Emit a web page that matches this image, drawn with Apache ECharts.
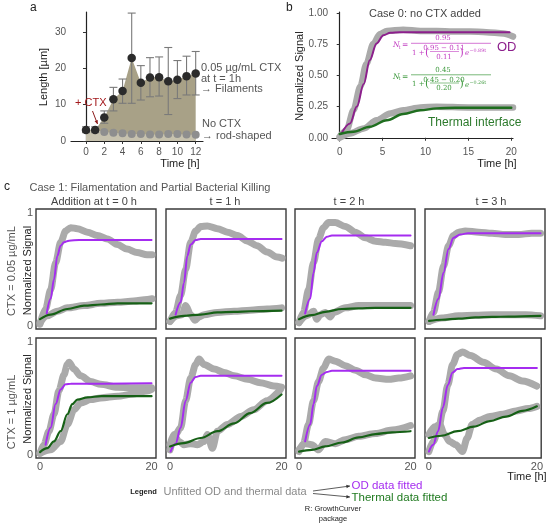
<!DOCTYPE html>
<html>
<head>
<meta charset="utf-8">
<script src="https://cdn.jsdelivr.net/npm/echarts@6/dist/echarts.min.js"></script>
<style>
  html, body { margin: 0; padding: 0; background: #fff; }
  #chart { width: 546px; height: 523px; }
</style>
</head>
<body>
<div id="chart"></div>
<script>
// ---- panel a: cell length ----
const aTime = [0, 1, 2, 3, 4, 5, 6, 7, 8, 9, 10, 11, 12];
const ctxMean = [3.0, 3.0, 6.5, 11.5, 13.8, 22.9, 16.1, 17.5, 17.6, 16.5, 16.9, 17.9, 18.6];
const ctxLow = [2.3, 2.3, 4.9, 8.3, 10.4, 10.4, 11.3, 12.2, 12.4, 7.3, 11.7, 12.7, 12.7];
const ctxHigh = [3.9, 3.9, 8.3, 14.8, 17.1, 35.3, 20.8, 23.0, 23.2, 25.8, 22.2, 23.4, 24.7];
const noCtxMean = [3.0, 3.0, 2.5, 2.3, 2.1, 1.9, 1.9, 1.8, 1.8, 1.9, 1.9, 1.8, 1.7];
const aTicksX = [0, 2, 4, 6, 8, 10, 12];
const aTicksY = [0, 10, 20, 30];

// ---- panel b: case 0 ----
const bOd = [[0,0.01],[0.8,0.06],[1.6,0.22],[2.4,0.41],[3.1,0.59],[3.9,0.75],[4.7,0.83],[5.5,0.855],[7.4,0.865],[9.4,0.855],[11.3,0.855],[13.2,0.85],[15.2,0.85],[17.1,0.845],[19.1,0.835],[20.2,0.81]];
const bOdFit = [[0.2,0.035],[1.2,0.115],[2,0.25],[2.8,0.43],[3.5,0.62],[4.3,0.755],[5.1,0.82],[5.9,0.84],[7,0.845],[19.8,0.845]];
const bTh = [[0,0.0],[1.2,0.035],[2.8,0.075],[4.3,0.14],[5.9,0.195],[7.4,0.22],[9.4,0.243],[11.3,0.248],[15,0.243],[20.2,0.243]];
const bThFit = [[0,0.03],[1.6,0.048],[3.5,0.088],[5.5,0.14],[7.4,0.19],[9.4,0.22],[11.3,0.235],[13.5,0.24],[20,0.24]];
const bTicksX = [0, 5, 10, 15, 20];
const bTicksY = [0, 0.25, 0.5, 0.75, 1];

// ---- panel c: case 1, rows = CTX dose, cols = addition time ----
const r1c1 = {
  od: [[0,0.015],[1.0,0.15],[1.9,0.32],[2.8,0.56],[3.7,0.74],[4.6,0.84],[5.5,0.87],[6.7,0.86],[8.5,0.83],[10.3,0.80],[12.1,0.77],[13.9,0.72],[15.6,0.68],[17.4,0.65],[19.2,0.63],[20.1,0.63]],
  odFit: [[1.2,0.11],[1.9,0.24],[2.5,0.41],[3.1,0.62],[3.7,0.71],[4.3,0.74],[5.2,0.755],[7,0.76],[20,0.76]],
  th: [[0,0.03],[1.3,0.09],[3.1,0.13],[4.9,0.16],[7.9,0.18],[10.9,0.2],[13.9,0.21],[16.8,0.22],[19.2,0.235],[20.1,0.24]],
  thFit: [[0,0.06],[1.9,0.10],[4.9,0.15],[7.9,0.18],[10.9,0.19],[13.9,0.2],[20,0.2]]
};
const r1c2 = {
  od: [[0,0.04],[1,0.12],[1.9,0.27],[2.8,0.5],[3.7,0.74],[4.6,0.84],[5.5,0.88],[6.7,0.885],[8.5,0.86],[10.3,0.83],[12.1,0.8],[13.9,0.75],[15.6,0.71],[17.4,0.655],[19.2,0.61],[20.1,0.6]],
  odFit: [[1,0.1],[1.9,0.21],[2.5,0.38],[3.1,0.62],[3.7,0.72],[4.6,0.76],[5.5,0.77],[20,0.77]],
  th: [[0,0.04],[1.3,0.09],[2.2,0.1],[2.8,0.18],[3.7,0.1],[4.5,0.05],[5.2,0.08],[6.1,0.1],[8.5,0.12],[11.5,0.13],[14.4,0.14],[17.4,0.15],[20,0.16]],
  thFit: [[0,0.065],[2.5,0.09],[5.5,0.1],[8.5,0.12],[11.5,0.125],[14.4,0.13],[20,0.135]]
};
const r1c3 = {
  od: [[0,0.03],[0.8,0.12],[1.7,0.32],[2.6,0.56],[3.5,0.77],[4.4,0.87],[5.3,0.915],[6.5,0.915],[8.3,0.88],[10.1,0.83],[11.9,0.78],[13.7,0.75],[15.5,0.74],[17.3,0.73],[20,0.71]],
  odFit: [[1.1,0.11],[2,0.24],[2.6,0.47],[3.2,0.65],[4.1,0.75],[5,0.79],[5.9,0.8],[20,0.8]],
  th: [[0,0.03],[1.4,0.09],[2.6,0.13],[3.2,0.06],[3.8,0.1],[4.7,0.12],[5.6,0.08],[6.2,0.12],[8.3,0.16],[10.7,0.18],[13.7,0.18],[16.7,0.18],[20,0.18]],
  thFit: [[0,0.06],[2.3,0.095],[4.7,0.125],[7.7,0.15],[10.7,0.155],[13.7,0.16],[20,0.16]]
};
const r1c4 = {
  od: [[0,0.04],[0.8,0.12],[1.7,0.3],[2.6,0.53],[3.5,0.71],[4.4,0.8],[5.3,0.83],[6.5,0.84],[8.9,0.83],[11.3,0.82],[13.7,0.81],[16.1,0.81],[18.4,0.82],[20,0.82]],
  odFit: [[0.8,0.1],[1.7,0.24],[2.6,0.47],[3.5,0.68],[4.4,0.78],[5.6,0.81],[7,0.82],[20,0.82]],
  th: [[0,0.04],[2.3,0.07],[5.3,0.09],[8.3,0.095],[11.3,0.1],[14.3,0.1],[17.3,0.1],[20,0.09]],
  thFit: [[0,0.045],[2.3,0.055],[5.3,0.065],[8.3,0.075],[11.3,0.08],[14.3,0.083],[20,0.09]]
};
const r2c1 = {
  od: [[0,0.015],[0.7,0.09],[1.6,0.21],[2.5,0.36],[3.4,0.57],[4.3,0.71],[4.9,0.8],[5.2,0.82],[6.1,0.76],[7.3,0.7],[9.1,0.65],[10.9,0.625],[13.9,0.6],[16.8,0.595],[20,0.595]],
  odFit: [[1,0.09],[1.9,0.24],[2.8,0.45],[3.7,0.58],[4.6,0.625],[5.5,0.63],[20,0.635]],
  th: [[0,0.015],[1.9,0.045],[3.7,0.12],[4.9,0.27],[6.1,0.4],[7.3,0.46],[9.1,0.49],[10.9,0.505],[13.9,0.52],[16.8,0.54],[19.2,0.565],[20,0.58]],
  thFit: [[0,0.025],[1.3,0.06],[2.5,0.12],[3.7,0.21],[4.9,0.36],[5.8,0.45],[6.7,0.49],[8.5,0.51],[11,0.52],[20,0.52]]
};
const r2c2 = {
  od: [[0,0.045],[1,0.18],[1.9,0.24],[2.8,0.48],[3.7,0.68],[4.6,0.8],[5.2,0.85],[6.1,0.8],[7.9,0.76],[9.7,0.73],[11.5,0.7],[13.9,0.67],[16.2,0.64],[18.6,0.61],[20,0.6]],
  odFit: [[0.1,0.03],[1,0.1],[1.9,0.24],[2.8,0.48],[3.7,0.64],[4.6,0.69],[5.5,0.7],[20,0.7]],
  th: [[0,0.09],[0.7,0.18],[1.6,0.12],[2.5,0.09],[3.7,0.1],[4.9,0.09],[6.1,0.12],[6.7,0.18],[7.6,0.06],[8.5,0.21],[10.3,0.27],[12.7,0.34],[15,0.4],[17.4,0.48],[19.8,0.58]],
  thFit: [[0,0.075],[2.5,0.105],[5.5,0.15],[8.5,0.21],[11.5,0.28],[14.4,0.37],[17.4,0.46],[20,0.535]]
};
const r2c3 = {
  od: [[0,0.03],[0.8,0.1],[1.7,0.27],[2.6,0.48],[3.5,0.65],[4.4,0.77],[5.3,0.85],[6.5,0.83],[8.3,0.79],[10.1,0.75],[11.9,0.71],[13.7,0.68],[16.1,0.67],[17.9,0.68],[20,0.7]],
  odFit: [[1.1,0.12],[2,0.27],[2.6,0.45],[3.2,0.61],[4.1,0.71],[5,0.735],[5.9,0.745],[20,0.745]],
  th: [[0,0.045],[1.1,0.1],[2.3,0.09],[3.5,0.045],[4.7,0.12],[6.5,0.1],[8.3,0.135],[10.7,0.165],[13.7,0.19],[16.7,0.22],[20,0.26]],
  thFit: [[0,0.03],[2.3,0.045],[4.7,0.075],[7.7,0.11],[10.7,0.155],[13.7,0.185],[16.7,0.2],[20,0.21]]
};
const r2c4 = {
  od: [[0,0.03],[0.8,0.12],[1.7,0.21],[2.6,0.39],[3.5,0.62],[4.4,0.8],[5.3,0.89],[6.2,0.91],[7.7,0.88],[10.1,0.82],[12.5,0.76],[14.9,0.7],[17.3,0.655],[20,0.61]],
  odFit: [[0,0.03],[0.8,0.09],[1.7,0.21],[2.6,0.42],[3.5,0.62],[4.4,0.73],[5.3,0.76],[6.5,0.77],[20,0.77]],
  th: [[0,0.18],[1.1,0.25],[2,0.27],[2.9,0.18],[3.8,0.12],[5,0.09],[6.2,0.03],[7.1,0.15],[8,0.27],[9.5,0.31],[11.3,0.34],[13.7,0.36],[16.1,0.39],[18.4,0.41],[20,0.43]],
  thFit: [[0,0.15],[2.3,0.17],[5.3,0.21],[8.3,0.25],[11.3,0.3],[14.3,0.34],[17.3,0.39],[20,0.43]]
};
const cPanels = [r1c1, r1c2, r1c3, r1c4, r2c1, r2c2, r2c3, r2c4];
const cColHeaders = ['Addition at t = 0 h', 't = 1 h', 't = 2 h', 't = 3 h'];

const FONT = 'Liberation Sans, Arial, sans-serif';
const GREY = '#aaaaaa';
const LABEL = '#555555';

const chart = echarts.init(document.getElementById('chart'), null, { renderer: 'canvas' });

const cLeft = [36, 166, 295, 425];
const cTop = [209, 338];

const grids = [
  { left: 71, top: 12, width: 132, height: 129.7 },
  { left: 332, top: 12, width: 181, height: 129 }
];
const xAxes = [
  {
    gridIndex: 0, type: 'value', min: -1.64, max: 12.8,
    axisLine: { lineStyle: { color: '#222', width: 1.2 } },
    axisTick: { customValues: aTicksX, length: 3, lineStyle: { color: '#333' } },
    axisLabel: { customValues: aTicksX, color: LABEL, fontSize: 10, margin: 6, fontFamily: FONT },
    splitLine: { show: false }
  },
  {
    gridIndex: 1, type: 'value', min: -0.9, max: 20.2,
    axisLine: { lineStyle: { color: '#222', width: 1.2 } },
    axisTick: { customValues: bTicksX, length: 3, lineStyle: { color: '#333' } },
    axisLabel: { customValues: bTicksX, color: LABEL, fontSize: 10, margin: 6, fontFamily: FONT },
    splitLine: { show: false }
  }
];
const yAxes = [
  {
    gridIndex: 0, type: 'value', min: -0.2, max: 35.6,
    axisLine: { show: true, lineStyle: { color: '#222', width: 1.2 } },
    axisTick: { show: true, customValues: aTicksY, length: 3, lineStyle: { color: '#333' } },
    axisLabel: { customValues: aTicksY, color: LABEL, fontSize: 10, margin: 5, fontFamily: FONT },
    splitLine: { show: false }
  },
  {
    gridIndex: 1, type: 'value', min: -0.026, max: 1.006,
    axisLine: { show: true, lineStyle: { color: '#222', width: 1.2 } },
    axisTick: { show: true, customValues: bTicksY, length: 3, lineStyle: { color: '#333' } },
    axisLabel: { customValues: bTicksY, color: LABEL, fontSize: 10, margin: 4, fontFamily: FONT,
      formatter: v => v.toFixed(2) },
    splitLine: { show: false }
  }
];

cPanels.forEach((p, i) => {
  const row = Math.floor(i / 4), col = i % 4;
  grids.push({
    left: cLeft[col], top: cTop[row], width: 120, height: 120,
    show: true, borderColor: '#3a3a3a', borderWidth: 1.4, backgroundColor: 'transparent'
  });
  xAxes.push({
    gridIndex: i + 2, type: 'value', min: -0.72, max: 20.8,
    axisLine: { show: false }, axisTick: { show: false }, splitLine: { show: false },
    axisLabel: { show: row === 1, customValues: [0, 20], color: LABEL, fontSize: 11, margin: 3, fontFamily: FONT }
  });
  yAxes.push({
    gridIndex: i + 2, type: 'value', min: -0.027, max: 1.035,
    axisLine: { show: false }, axisTick: { show: false }, splitLine: { show: false },
    axisLabel: { show: col === 0, customValues: [0, 1], color: LABEL, fontSize: 11, margin: 3, fontFamily: FONT }
  });
});

const series = [
  {
    type: 'line', xAxisIndex: 0, yAxisIndex: 0, symbol: 'none',
    data: aTime.map((t, i) => [t, ctxMean[i]]),
    lineStyle: { width: 0 }, areaStyle: { color: '#a8a187', opacity: 1 }, z: 1
  },
  {
    type: 'line', xAxisIndex: 0, yAxisIndex: 0, symbol: 'none',
    data: aTime.map((t, i) => [t, noCtxMean[i]]),
    lineStyle: { width: 0 }, areaStyle: { color: '#c7c2ae', opacity: 1 }, z: 2
  },
  {
    type: 'custom', xAxisIndex: 0, yAxisIndex: 0, z: 3,
    data: aTime.map((t, i) => [t, ctxLow[i], ctxHigh[i]]),
    encode: { x: 0, y: [1, 2] },
    renderItem: (params, api) => {
      const lo = api.coord([api.value(0), api.value(1)]);
      const hi = api.coord([api.value(0), api.value(2)]);
      const w = 4;
      const st = { stroke: '#7a7a7a', lineWidth: 1.1 };
      return {
        type: 'group',
        children: [
          { type: 'line', shape: { x1: lo[0], y1: lo[1], x2: hi[0], y2: hi[1] }, style: st },
          { type: 'line', shape: { x1: lo[0] - w, y1: lo[1], x2: lo[0] + w, y2: lo[1] }, style: st },
          { type: 'line', shape: { x1: hi[0] - w, y1: hi[1], x2: hi[0] + w, y2: hi[1] }, style: st }
        ]
      };
    }
  },
  {
    type: 'scatter', xAxisIndex: 0, yAxisIndex: 0, symbolSize: 8, z: 4,
    data: aTime.slice(2).map((t, i) => [t, noCtxMean[i + 2]]),
    itemStyle: { color: '#8e8e8e', opacity: 1 }
  },
  {
    type: 'scatter', xAxisIndex: 0, yAxisIndex: 0, symbolSize: 8.5, z: 5,
    data: aTime.map((t, i) => [t, ctxMean[i]]),
    itemStyle: { color: '#2b2b2b', opacity: 1 }
  }
];

function thick(data, xi, w) {
  return {
    type: 'line', xAxisIndex: xi, yAxisIndex: xi, symbol: 'none', smooth: 0.3, smoothMonotone: 'x',
    data, lineStyle: { color: GREY, width: w, cap: 'round', join: 'round' }, z: 2, silent: true
  };
}
function fit(data, xi, color, w) {
  return {
    type: 'line', xAxisIndex: xi, yAxisIndex: xi, symbol: 'none', smooth: 0.35, smoothMonotone: 'x',
    data, lineStyle: { color, width: w, cap: 'round' }, z: 3, silent: true
  };
}

series.push(thick(bOd, 1, 6.5), thick(bTh, 1, 6.5),
  fit(bOdFit, 1, '#8c1f8c', 2), fit(bThFit, 1, '#1f6e1f', 2.4));

cPanels.forEach((p, i) => {
  const xi = i + 2;
  series.push(thick(p.od, xi, 7), thick(p.th, xi, 7),
    fit(p.odFit, xi, '#a52cf0', 2), fit(p.thFit, xi, '#166016', 2.2));
});

// ---- annotation helpers ----
function txt(x, y, text, o = {}) {
  return {
    type: 'text', x, y, rotation: o.rot || 0, z: 100,
    style: {
      text, fill: o.color || '#222',
      font: (o.style || '') + ' ' + (o.weight || 'normal') + ' ' + (o.size || 11) + 'px ' + (o.family || FONT),
      align: o.align || 'left', verticalAlign: 'middle'
    }
  };
}
function seg(x1, y1, x2, y2, color, w) {
  return { type: 'line', z: 100, shape: { x1, y1, x2, y2 }, style: { stroke: color, lineWidth: w || 1 } };
}
function arrow(x1, y1, x2, y2, color, w, head) {
  const a = Math.atan2(y2 - y1, x2 - x1), h = head || 4;
  return [
    seg(x1, y1, x2, y2, color, w),
    { type: 'polygon', z: 100, shape: { points: [
      [x2, y2],
      [x2 - h * Math.cos(a - 0.45), y2 - h * Math.sin(a - 0.45)],
      [x2 - h * Math.cos(a + 0.45), y2 - h * Math.sin(a + 0.45)]
    ] }, style: { fill: color } }
  ];
}
function equation(y0, color, num, a, b, rate) {
  const S = 'DejaVu Serif, Liberation Serif, serif';
  return [
    txt(393, y0 + 7, 'N', { color, size: 7.5, style: 'italic', family: S }),
    txt(398.5, y0 + 9, 't', { color, size: 5, family: S }),
    txt(402, y0 + 7, '=', { color, size: 7.5, family: S }),
    txt(443, y0, num, { color, size: 7, family: S, align: 'center' }),
    seg(411, y0 + 4.8, 491, y0 + 4.8, color, 0.7),
    txt(412, y0 + 14.5, '1 +', { color, size: 7, family: S }),
    txt(425, y0 + 14.5, '(', { color, size: 11, family: S }),
    txt(444, y0 + 10, a + ' \u2212 ' + b, { color, size: 7, family: S, align: 'center' }),
    seg(430, y0 + 13, 459, y0 + 13, color, 0.6),
    txt(444, y0 + 18.5, b, { color, size: 7, family: S, align: 'center' }),
    txt(459.5, y0 + 14.5, ')', { color, size: 11, family: S }),
    txt(465, y0 + 15, 'e', { color, size: 7, style: 'italic', family: S }),
    txt(469.5, y0 + 12.5, '\u2212' + rate + 't', { color, size: 4.8, family: S })
  ];
}

const graphics = [
  // panel letters
  txt(30, 8, 'a', { size: 12 }),
  txt(286, 8, 'b', { size: 12 }),
  txt(4, 187, 'c', { size: 12 }),
  // panel a
  txt(44, 77, 'Length [\u00b5m]', { rot: Math.PI / 2, align: 'center', size: 11 }),
  txt(180, 163.5, 'Time [h]', { align: 'center', size: 11 }),
  txt(201, 68, '0.05 \u00b5g/mL CTX', { color: LABEL, size: 11 }),
  txt(201, 78.5, 'at t = 1h', { color: LABEL, size: 11 }),
  txt(201, 89, '\u2192 Filaments', { color: LABEL, size: 11 }),
  txt(202, 124, 'No CTX', { color: LABEL, size: 11 }),
  txt(202, 136, '\u2192 rod-shaped', { color: LABEL, size: 11 }),
  txt(75, 103, '+ CTX', { color: '#a3191c', size: 11 }),
  ...arrow(92.5, 111, 97.5, 124, '#8b1a1a', 1, 4),
  // panel b
  txt(425, 13.5, 'Case 0: no CTX added', { color: '#444', align: 'center', size: 11 }),
  txt(300, 76, 'Normalized Signal', { rot: Math.PI / 2, align: 'center', size: 11 }),
  txt(497, 163.5, 'Time [h]', { align: 'center', size: 11 }),
  txt(497, 47, 'OD', { color: '#8c1f8c', size: 13 }),
  txt(428, 122.5, 'Thermal interface', { color: '#2c7a2c', size: 12 }),
  ...equation(38.5, '#c23ec2', '0.95', '0.95', '0.11', '0.89'),
  ...equation(70, '#3f9a3f', '0.45', '0.45', '0.20', '0.26'),
  // panel c
  txt(150, 187.5, 'Case 1: Filamentation and Partial Bacterial Killing', { color: LABEL, align: 'center', size: 11 }),
  txt(94, 201.5, cColHeaders[0], { color: '#444', align: 'center', size: 11 }),
  txt(225, 201.5, cColHeaders[1], { color: '#444', align: 'center', size: 11 }),
  txt(349, 201.5, cColHeaders[2], { color: '#444', align: 'center', size: 11 }),
  txt(491, 201.5, cColHeaders[3], { color: '#444', align: 'center', size: 11 }),
  txt(12, 271, 'CTX = 0.05 \u00b5g/mL', { rot: Math.PI / 2, align: 'center', color: LABEL, size: 11 }),
  txt(28, 270.5, 'Normalized Signal', { rot: Math.PI / 2, align: 'center', size: 11 }),
  txt(12, 412, 'CTX = 1 \u00b5g/mL', { rot: Math.PI / 2, align: 'center', color: LABEL, size: 11 }),
  txt(28, 399, 'Normalized Signal', { rot: Math.PI / 2, align: 'center', size: 11 }),
  txt(527, 477, 'Time [h]', { align: 'center', size: 11 }),
  // legend
  txt(143.5, 492, 'Legend', { weight: 'bold', align: 'center', size: 7.5 }),
  txt(163.5, 492, 'Unfitted OD and thermal data', { color: '#8a8a8a', size: 11 }),
  ...arrow(313, 491, 350, 486, '#333', 0.8, 4),
  ...arrow(313, 493.5, 350, 497, '#333', 0.8, 4),
  txt(351.5, 486, 'OD data fitted', { color: '#a52cf0', size: 11.5 }),
  txt(351.5, 498, 'Thermal data fitted', { color: '#1f7a1f', size: 11.5 }),
  txt(333, 508.5, 'R: GrowthCurver', { align: 'center', size: 7.5 }),
  txt(333, 518.5, 'package', { align: 'center', size: 7.5 })
];

chart.setOption({
  animation: false,
  textStyle: { fontFamily: FONT },
  grid: grids,
  xAxis: xAxes,
  yAxis: yAxes,
  series,
  graphic: graphics
});
</script>
</body>
</html>
